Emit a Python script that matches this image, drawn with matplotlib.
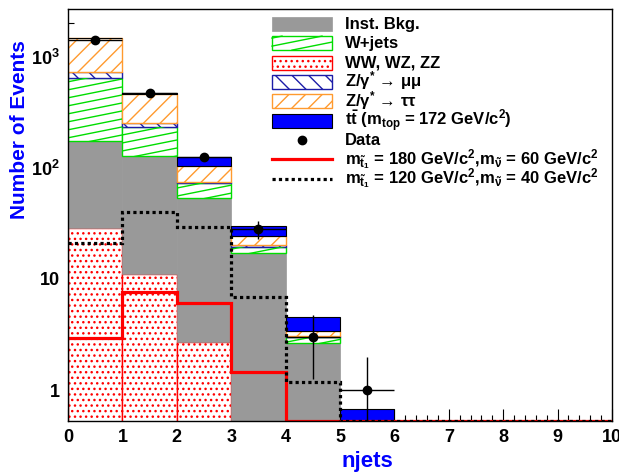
import numpy as np
import matplotlib
matplotlib.use("Agg")
import matplotlib.pyplot as plt
from matplotlib.patches import Rectangle
from matplotlib.lines import Line2D
from matplotlib.collections import LineCollection
from matplotlib.ticker import LogLocator, MultipleLocator, NullFormatter

plt.rcParams['font.family'] = 'Liberation Sans'
plt.rcParams['font.weight'] = 'bold'
plt.rcParams['mathtext.fontset'] = 'custom'
plt.rcParams['mathtext.rm'] = 'Liberation Sans:bold'
plt.rcParams['mathtext.bf'] = 'Liberation Sans:bold'
plt.rcParams['mathtext.it'] = 'Liberation Sans:bold'
plt.rcParams['mathtext.default'] = 'rm'
plt.rcParams['hatch.linewidth'] = 1.0

# njets bins 0..10
edges = np.arange(11)

# background components (bottom to top of the stack)
ww = np.array([28.8, 11.1, 2.7, 0, 0, 0, 0, 0, 0, 0])
inst_bkg = np.array([146, 118, 51, 17.0, 2.63, 0, 0, 0, 0, 0])
wjets = np.array([476, 106, 20.1, 2.5, 0.35, 0, 0, 0, 0, 0])
z_mumu = np.array([81, 18, 1.2, 0.6, 0.08, 0, 0, 0, 0, 0])
z_tautau = np.array([751, 208, 30, 4.3, 0.36, 0, 0, 0, 0, 0])
ttbar = np.array([2, 8, 20, 5.8, 1.13, 0.67, 0, 0, 0, 0])

data = np.array([1409, 471, 126, 28, 3, 1, 0, 0, 0, 0])

# signal points
sig_180_60 = np.array([2.92, 7.6, 6.04, 1.44, 0, 0, 0, 0, 0, 0])
sig_120_40 = np.array([21.2, 39.9, 29.6, 6.93, 1.19, 0, 0, 0, 0, 0])

ymin, ymax = 0.526, 2700

GREEN = '#00dd00'
ORANGE = '#ff9a2e'
NAVY = '#1c1ca8'
GRAY = '#999999'
W, H = 619, 475

fig = plt.figure(figsize=(W / 100, H / 100), dpi=100)
ax = fig.add_axes([68 / W, 1 - 421 / H, 544 / W, 412 / H])
ax.set_yscale('log', nonpositive='clip')
ax.set_xlim(0, 10)
ax.set_ylim(ymin, ymax)
ax.set_axisbelow(True)

styles = {
    'ww': dict(facecolor='white', edgecolor='red', hatch='...', linewidth=1),
    'inst': dict(facecolor=GRAY, edgecolor=GRAY, linewidth=0.5),
    'wjets': dict(facecolor='white', edgecolor=GREEN, linewidth=1),
    'zmm': dict(facecolor='white', edgecolor=NAVY, hatch='\\\\', linewidth=1),
    'ztt': dict(facecolor='white', edgecolor=ORANGE, hatch='//', linewidth=1),
    'tt': dict(facecolor='blue', edgecolor='black', linewidth=0.8),
}
layers = [(ww, 'ww'), (inst_bkg, 'inst'), (wjets, 'wjets'),
          (z_mumu, 'zmm'), (z_tautau, 'ztt'), (ttbar, 'tt')]

bottom = np.zeros(len(edges) - 1)
bar_groups = {}
for vals, key in layers:
    bar_groups[key] = ax.bar(edges[:-1], vals, width=1, bottom=bottom, align='edge',
                             **styles[key])
    bottom = bottom + vals

# slanted green hatching for W+jets, in axes units and clipped to each bar
slope = 0.2 * 544 / 412
step = 8 / 412
segs = [[(0, c), (1, c + slope)] for c in np.arange(-slope, 1 + step, step)]
for bar, v in zip(bar_groups['wjets'], wjets):
    if v <= 0:
        continue
    lc = LineCollection(segs, colors=GREEN, linewidths=1, transform=ax.transAxes)
    ax.add_collection(lc)
    lc.set_clip_path(bar)

# signal curves, empty bins sit on the axis floor
ax.stairs(np.maximum(sig_180_60, ymin), edges, baseline=None, color='red', lw=2.3, zorder=4)
ax.stairs(np.maximum(sig_120_40, ymin), edges, baseline=None, color='black', lw=2.3,
          linestyle=(0, (1, 1)), zorder=4)

has = data > 0
centers = edges[:-1] + 0.5
ax.errorbar(centers[has], data[has], yerr=np.sqrt(data[has]), xerr=0.5, fmt='o',
            color='black', ms=6, elinewidth=1, capsize=0, zorder=5)

# axes styling
ax.xaxis.set_major_locator(MultipleLocator(1))
ax.xaxis.set_minor_locator(MultipleLocator(0.2))
ax.yaxis.set_minor_locator(LogLocator(base=10, subs=np.arange(2, 10), numticks=20))
ax.yaxis.set_minor_formatter(NullFormatter())
ax.set_yticks([1, 10, 100, 1000])
ax.set_yticklabels(['1', '10', r'$\mathbf{10^{2}}$', r'$\mathbf{10^{3}}$'])
ax.set_ylim(ymin, ymax)
ax.tick_params(which='both', direction='in', top=False, right=False, labelsize=13)
ax.tick_params(which='major', length=8.6, width=0.8, pad=6)
ax.tick_params(which='minor', length=4.3, width=0.8)
for s in ax.spines.values():
    s.set_linewidth(1)
    s.set_zorder(6)

fig.text(20 / W, 1 - 130 / H, 'Number of Events', rotation=90, color='blue',
         fontsize=15, weight='bold', ha='center', va='center')
fig.text(367 / W, 1 - 462 / H, 'njets', color='blue', fontsize=16,
         weight='bold', ha='center', va='center')

# legend, laid out row by row in figure pixels
labels = [
    'Inst. Bkg.',
    'W+jets',
    'WW, WZ, ZZ',
    r'Z/γ$^{*}$ → μμ',
    r'Z/γ$^{*}$ → ττ',
    r't$\bar{\mathrm{t}}$ (m$_{\mathrm{top}}$ = 172 GeV/c$^{2}$)',
    'Data',
    r'm$_{\tilde{\mathrm{t}}_{1}}$ = 180 GeV/c$^{2}$,m$_{\tilde{\nu}}$ = 60 GeV/c$^{2}$',
    r'm$_{\tilde{\mathrm{t}}_{1}}$ = 120 GeV/c$^{2}$,m$_{\tilde{\nu}}$ = 40 GeV/c$^{2}$',
]
kinds = ['inst', 'wjets', 'ww', 'zmm', 'ztt', 'tt', 'data', 'sig1', 'sig2']
x0, x1, xt = 272, 332, 345
box_h = 14


def fx(px):
    return px / W


def fy(py):
    return 1 - py / H


for i, (kind, lab) in enumerate(zip(kinds, labels)):
    yc = 23.7 + 19.4 * i
    if kind in styles:
        fig.add_artist(Rectangle((fx(x0), fy(yc + box_h / 2)), (x1 - x0) / W, box_h / H,
                                 transform=fig.transFigure, **styles[kind]))
    if kind == 'wjets':
        s = 0.2
        for c in np.arange(-s * (x1 - x0), box_h, 8):
            xa = max(0.0, -c / s)
            xb = min(x1 - x0, (box_h - c) / s)
            if xb > xa:
                yb = yc + box_h / 2
                fig.add_artist(Line2D([fx(x0 + xa), fx(x0 + xb)],
                                      [fy(yb - c - s * xa), fy(yb - c - s * xb)],
                                      color=GREEN, lw=1, transform=fig.transFigure))
    elif kind == 'data':
        fig.add_artist(Line2D([fx((x0 + x1) / 2)], [fy(yc)], marker='o', color='black',
                              ms=6, ls='none', transform=fig.transFigure))
    elif kind == 'sig1':
        fig.add_artist(Line2D([fx(x0), fx(x1)], [fy(yc), fy(yc)], color='red', lw=2.3,
                              transform=fig.transFigure))
    elif kind == 'sig2':
        fig.add_artist(Line2D([fx(x0), fx(x1)], [fy(yc), fy(yc)], color='black', lw=2.3,
                              ls=(0, (1, 1)), transform=fig.transFigure))
    fig.text(fx(xt), fy(yc + 5), lab, fontsize=12, weight='bold', ha='left', va='baseline')

fig.savefig('out.png', dpi=100)
